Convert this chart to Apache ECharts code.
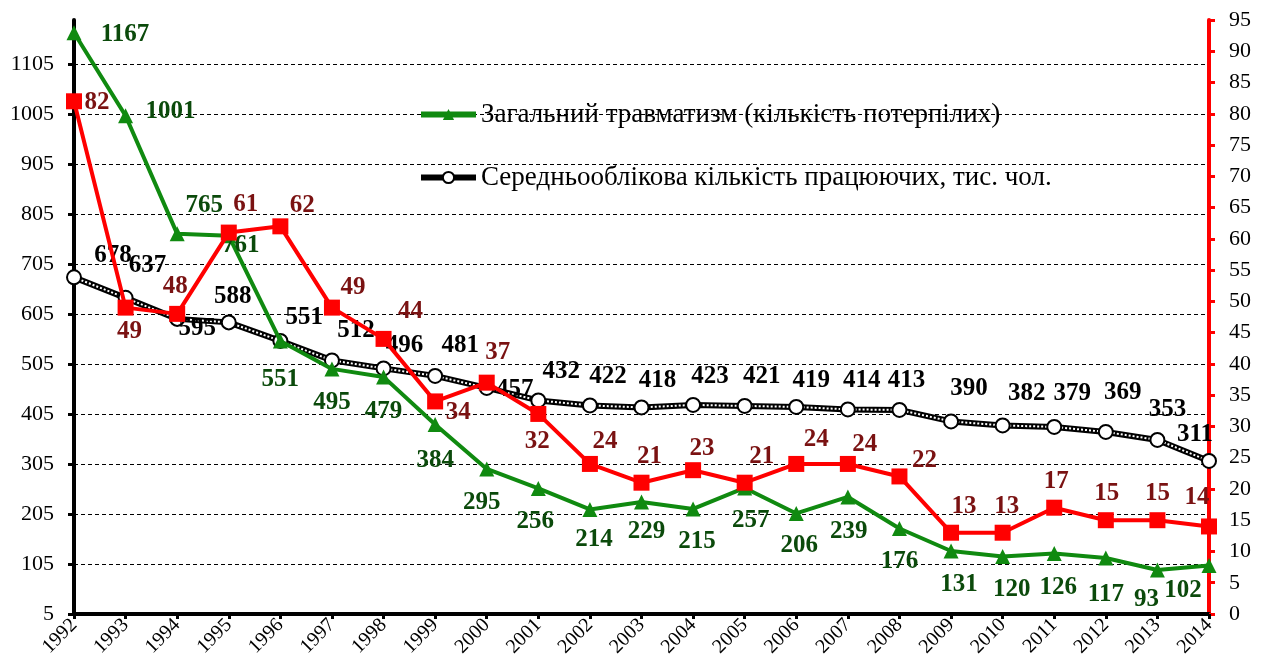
<!DOCTYPE html>
<html>
<head>
<meta charset="utf-8">
<script src="https://cdn.jsdelivr.net/npm/echarts@6/dist/echarts.min.js"></script>
<style>
  html, body { margin: 0; padding: 0; background: #fff; }
  #chart { width: 1263px; height: 671px; }
</style>
</head>
<body>
<div id="chart"></div>
<script>
// роки
var years = ["1992", "1993", "1994", "1995", "1996", "1997", "1998", "1999", "2000", "2001", "2002",
  "2003", "2004", "2005", "2006", "2007", "2008", "2009", "2010", "2011", "2012", "2013", "2014"];

// загальний травматизм (ліва вісь)
var injured = [1167, 1001, 765, 761, 551, 495, 479, 384, 295, 256, 214, 229, 215, 257, 206, 239, 176, 131, 120, 126, 117, 93, 102];
// середньооблікова кількість працюючих, тис. чол. (ліва вісь)
var workers = [678, 637, 595, 588, 551, 512, 496, 481, 457, 432, 422, 418, 423, 421, 419, 414, 413, 390, 382, 379, 369, 353, 311];
// смертельний травматизм (права вісь)
var fatal = [82, 49, 48, 61, 62, 49, 44, 34, 37, 32, 24, 21, 23, 21, 24, 24, 22, 13, 13, 17, 15, 15, 14];

// зсуви підписів
var injuredLabelOffset = [[51, 2], [45, -4], [27, -28], [12, 10], [0, 39], [0, 34], [0, 35], [0, 36], [-5, 34], [-3, 33], [4, 30], [5, 30],
  [4, 33], [6, 33], [3, 32], [1, 35], [0, 33], [8, 34], [9, 33], [4, 34], [0, 37], [-11, 30], [-26, 25]];
var workersLabelOffset = [[39, -22], [22, -32], [20, 10], [4, -26], [24, -23], [24, -30], [21, -23], [25, -30], [28, 2], [23, -29], [18, -29], [16, -27],
  [17, -28], [17, -29], [15, -26], [14, -29], [7, -29], [18, -33], [24, -32], [18, -33], [17, -39], [10, -30], [-14, -26]];
var fatalLabelOffset = [[23, 1], [4, 24], [-2, -27], [17, -28], [22, -21], [21, -20], [27, -27], [23, 11], [11, -30], [-1, 28], [15, -22], [8, -26],
  [9, -22], [17, -26], [20, -24], [17, -19], [25, -16], [13, -26], [4, -26], [2, -26], [1, -27], [0, -27], [-12, -29]];

var serif = "'Liberation Serif', 'Times New Roman', serif";
var nameInjured = "Загальний травматизм (кількість потерпілих)";
var nameWorkers = "Середньооблікова кількість працюючих, тис. чол.";
var nameFatal = "Смертельний травматизм";

function withOffsets(values, offsets) {
    return values.map(function (v, i) {
        return { value: v, label: { offset: offsets[i] } };
    });
}

function labelStyle(color) {
    return {
        show: true,
        position: "inside",
        align: "center",
        verticalAlign: "middle",
        color: color,
        fontFamily: serif,
        fontWeight: "bold",
        fontSize: 25,
    };
}

var mychart = echarts.init(document.getElementById("chart"));

var option = {
    animation: false,
    backgroundColor: "#fff",
    grid: {
        left: 74,
        right: 54,
        top: 20,
        bottom: 57,
        outerBoundsMode: "none",
    },
    legend: {
        left: 413,
        top: 96,
        orient: "vertical",
        itemWidth: 55,
        itemHeight: 14,
        itemGap: 36,
        textStyle: {
            color: "#000",
            fontFamily: serif,
            fontSize: 27,
            lineHeight: 26,
        },
        data: [
            { name: nameInjured, lineStyle: { width: 6 } },
            { name: nameWorkers, lineStyle: { width: 6 } },
        ],
    },
    xAxis: {
        type: "category",
        data: years,
        boundaryGap: false,
        axisLine: { lineStyle: { color: "#000", width: 4 } },
        axisTick: { alignWithLabel: true, length: 5, lineStyle: { color: "#000", width: 3 } },
        axisLabel: {
            rotate: 45,
            margin: 8,
            color: "#000",
            fontFamily: serif,
            fontSize: 20,
        },
        splitLine: { show: false },
    },
    yAxis: [
        {
            type: "value",
            min: 5,
            max: 1192.5,
            interval: 100,
            axisLine: { show: true, lineStyle: { color: "#000", width: 4 } },
            axisTick: { show: true, length: 6, lineStyle: { color: "#000", width: 3 } },
            axisLabel: {
                showMaxLabel: false,
                margin: 20,
                color: "#000",
                fontFamily: serif,
                fontSize: 22,
                formatter: function (v) { return String(v); },
            },
            splitLine: {
                show: true,
                showMinLine: false,
                showMaxLine: false,
                lineStyle: { color: "#000", type: [4, 3], width: 1 },
            },
        },
        {
            type: "value",
            position: "right",
            min: 0,
            max: 95,
            interval: 5,
            axisLine: { show: true, lineStyle: { color: "#ff0000", width: 4 } },
            axisTick: { show: true, length: 6, lineStyle: { color: "#ff0000", width: 3 } },
            axisLabel: {
                margin: 20,
                color: "#000",
                fontFamily: serif,
                fontSize: 22,
            },
            splitLine: { show: false },
        },
    ],
    series: [
        {
            name: nameWorkers,
            type: "line",
            yAxisIndex: 0,
            data: withOffsets(workers, workersLabelOffset),
            symbol: "circle",
            symbolSize: 14,
            itemStyle: { color: "#fff", borderColor: "#000", borderWidth: 2 },
            lineStyle: { color: "#000", width: 6 },
            label: labelStyle("#000"),
            z: 3,
        },
        {
            // white dots inside the black line
            name: "_dots",
            type: "line",
            yAxisIndex: 0,
            data: workers,
            symbol: "none",
            lineStyle: { color: "#fff", width: 2, type: [2, 2] },
            silent: true,
            z: 3,
        },
        {
            name: nameInjured,
            type: "line",
            yAxisIndex: 0,
            data: withOffsets(injured, injuredLabelOffset),
            symbol: "triangle",
            symbolSize: 15,
            itemStyle: { color: "#108a10" },
            lineStyle: { color: "#108a10", width: 4 },
            label: labelStyle("#0b4a0b"),
            z: 4,
        },
        {
            name: nameFatal,
            type: "line",
            yAxisIndex: 1,
            data: withOffsets(fatal, fatalLabelOffset),
            symbol: "rect",
            symbolSize: 16,
            itemStyle: { color: "#ff0000" },
            lineStyle: { color: "#ff0000", width: 4 },
            label: labelStyle("#7a1212"),
            z: 5,
        },
    ],
};

mychart.setOption(option);
</script>
</body>
</html>
